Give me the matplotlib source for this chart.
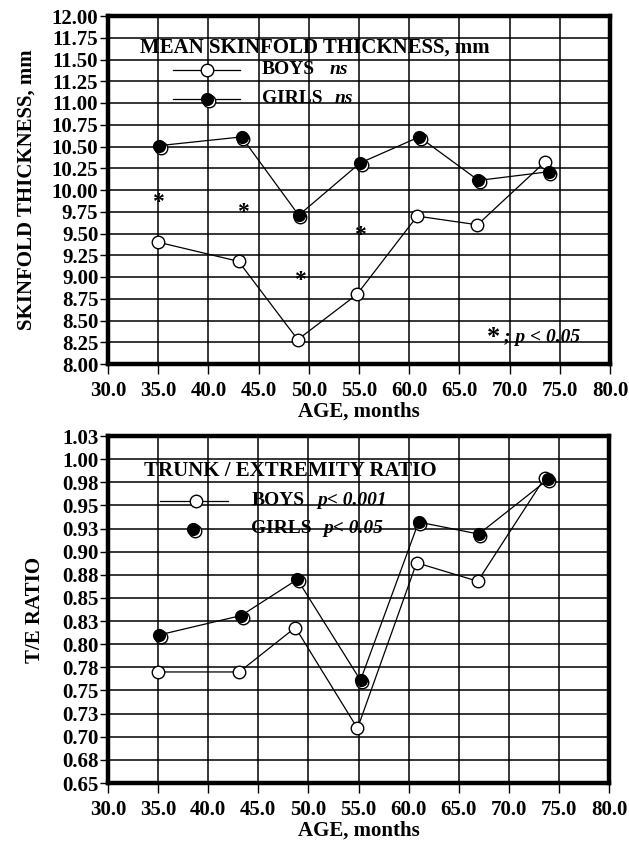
import matplotlib
matplotlib.use("Agg")
import matplotlib.pyplot as plt
import matplotlib.transforms as mtransforms

# skinfold thickness (mm) by age (months)
sf_boys_age = [35.0, 43.0, 48.9, 54.8, 60.8, 66.8, 73.5]
sf_boys = [9.40, 9.18, 8.28, 8.80, 9.70, 9.60, 10.32]
sf_girls_age = [35.1, 43.3, 49.0, 55.1, 61.0, 66.9, 73.9]
sf_girls = [10.51, 10.61, 9.71, 10.31, 10.61, 10.11, 10.21]
sf_star_age = [35.0, 43.4, 49.1, 55.1]
sf_star_y = [9.91, 9.80, 9.02, 9.53]

# trunk / extremity ratio by age (months)
te_boys_age = [35.0, 43.1, 48.7, 54.9, 60.8, 66.9, 73.6]
te_boys = [0.770, 0.770, 0.818, 0.709, 0.888, 0.868, 0.980]
te_girls_age = [35.1, 43.3, 48.9, 55.2, 61.0, 67.0, 73.9]
te_girls = [0.810, 0.831, 0.870, 0.761, 0.932, 0.919, 0.978]

x_ticks = [30, 35, 40, 45, 50, 55, 60, 65, 70, 75, 80]
sf_ticks = [8.00, 8.25, 8.50, 8.75, 9.00, 9.25, 9.50, 9.75, 10.00, 10.25,
            10.50, 10.75, 11.00, 11.25, 11.50, 11.75, 12.00]
te_ticks = [0.650, 0.675, 0.700, 0.725, 0.750, 0.775, 0.800, 0.825, 0.850,
            0.875, 0.900, 0.925, 0.950, 0.975, 1.000, 1.025]
te_labels = ["0.65", "0.68", "0.70", "0.73", "0.75", "0.78", "0.80", "0.83",
             "0.85", "0.88", "0.90", "0.93", "0.95", "0.98", "1.00", "1.03"]

plt.rcParams["font.family"] = ["Liberation Serif", "DejaVu Serif"]
plt.rcParams["font.weight"] = "bold"
plt.rcParams["font.size"] = 15

FS = 15
LFS = 14


def style_axes(ax, yticks, ylabels):
    ax.set_xlim(30, 80)
    ax.set_ylim(yticks[0], yticks[-1])
    ax.set_xticks(x_ticks)
    ax.set_xticklabels(["%.1f" % t for t in x_ticks])
    ax.set_yticks(yticks)
    ax.set_yticklabels(ylabels)
    ax.grid(True, color="black", linewidth=1.1)
    ax.set_axisbelow(True)
    for s in ax.spines.values():
        s.set_linewidth(3.2)
    ax.tick_params(axis="y", direction="out", length=6, width=1, pad=1,
                   labelsize=FS)
    ax.tick_params(axis="x", direction="out", length=7, width=1, pad=5,
                   labelsize=FS)
    for lab in ax.get_xticklabels() + ax.get_yticklabels():
        lab.set_fontweight("bold")


def draw_series(ax, fig, xb, yb, xg, yg):
    shadow = mtransforms.offset_copy(ax.transData, fig=fig, x=1.5, y=-2.0,
                                     units="dots")
    ax.plot(xg, yg, color="black", linewidth=0.9, zorder=3)
    ax.plot(xb, yb, color="black", linewidth=0.9, marker="o", markersize=9,
            markerfacecolor="white", markeredgecolor="black",
            markeredgewidth=1.0, zorder=4)
    ax.plot(xg, yg, linestyle="none", marker="o", markersize=9,
            markerfacecolor="white", markeredgecolor="black",
            markeredgewidth=1.0, transform=shadow, zorder=4)
    ax.plot(xg, yg, linestyle="none", marker="o", markersize=8.5,
            markerfacecolor="black", markeredgecolor="black", zorder=5)


fig = plt.figure(figsize=(6.29, 8.46), dpi=100)

# ---- top panel: skinfold thickness
ax1 = fig.add_axes([108 / 629, 1 - 364 / 846, 502 / 629, 348 / 846])
style_axes(ax1, sf_ticks, ["%.2f" % t for t in sf_ticks])
draw_series(ax1, fig, sf_boys_age, sf_boys, sf_girls_age, sf_girls)

star_tr = mtransforms.offset_copy(ax1.transData, fig=fig, x=0, y=-5,
                                  units="dots")
for xs, ys in zip(sf_star_age, sf_star_y):
    ax1.text(xs, ys, "*", ha="center", va="center", fontsize=FS + 2,
             fontweight="bold", transform=star_tr, zorder=6)

ax1.text(33.2, 11.64, "MEAN SKINFOLD THICKNESS, mm", fontsize=FS,
         fontweight="bold", va="center", ha="left", zorder=6)
leg_sh1 = mtransforms.offset_copy(ax1.transData, fig=fig, x=1.5, y=-2.0,
                                  units="dots")
ax1.plot([36.5, 43.1], [11.38, 11.38], color="black", linewidth=0.9, zorder=4)
ax1.plot([39.9], [11.38], marker="o", markersize=9, markerfacecolor="white",
         markeredgecolor="black", zorder=5)
ax1.plot([36.5, 43.1], [11.05, 11.05], color="black", linewidth=0.9, zorder=4)
ax1.plot([39.9], [11.05], marker="o", markersize=9, markerfacecolor="white",
         markeredgecolor="black", transform=leg_sh1, zorder=5)
ax1.plot([39.9], [11.05], marker="o", markersize=8.5, markerfacecolor="black",
         markeredgecolor="black", zorder=6)
ax1.text(45.3, 11.38, "BOYS", fontsize=LFS, fontweight="bold", va="center",
         zorder=6)
ax1.text(52.1, 11.38, "ns", fontsize=LFS, fontweight="bold",
         style="italic", va="center", zorder=6)
ax1.text(45.3, 11.05, "GIRLS", fontsize=LFS, fontweight="bold", va="center",
         zorder=6)
ax1.text(52.6, 11.05, "ns", fontsize=LFS, fontweight="bold",
         style="italic", va="center", zorder=6)
ax1.text(68.4, 8.36, "*", fontsize=FS + 4, fontweight="bold", ha="center",
         va="center", transform=star_tr, zorder=6)
ax1.text(69.4, 8.30, "; p < 0.05", fontsize=LFS, fontweight="bold",
         style="italic", va="center", zorder=6)

ax1.set_xlabel("AGE, months", fontsize=FS, fontweight="bold", labelpad=1)
ax1.set_ylabel("SKINFOLD THICKNESS, mm", fontsize=FS, fontweight="bold",
               labelpad=11)

# ---- bottom panel: trunk / extremity ratio
ax2 = fig.add_axes([108 / 629, 1 - 783 / 846, 501 / 629, 347 / 846])
style_axes(ax2, te_ticks, te_labels)
draw_series(ax2, fig, te_boys_age, te_boys, te_girls_age, te_girls)

ax2.text(33.6, 0.987, "TRUNK / EXTREMITY RATIO", fontsize=FS,
         fontweight="bold", va="center", ha="left", zorder=6)
leg_sh2 = mtransforms.offset_copy(ax2.transData, fig=fig, x=1.5, y=-2.0,
                                  units="dots")
ax2.plot([35.2, 42.0], [0.955, 0.955], color="black", linewidth=0.9,
         zorder=4)
ax2.plot([38.8], [0.955], marker="o", markersize=9, markerfacecolor="white",
         markeredgecolor="black", zorder=5)
ax2.plot([38.5], [0.9245], marker="o", markersize=9, markerfacecolor="white",
         markeredgecolor="black", transform=leg_sh2, zorder=5)
ax2.plot([38.5], [0.9245], marker="o", markersize=8.5,
         markerfacecolor="black", markeredgecolor="black", zorder=6)
ax2.text(44.3, 0.955, "BOYS", fontsize=LFS, fontweight="bold", va="center",
         zorder=6)
ax2.text(50.9, 0.955, "p< 0.001", fontsize=LFS, fontweight="bold",
         style="italic", va="center", zorder=6)
ax2.text(44.3, 0.9245, "GIRLS", fontsize=LFS, fontweight="bold", va="center",
         zorder=6)
ax2.text(51.5, 0.9245, "p< 0.05", fontsize=LFS, fontweight="bold",
         style="italic", va="center", zorder=6)

ax2.set_xlabel("AGE, months", fontsize=FS, fontweight="bold", labelpad=1)
ax2.set_ylabel("T/E RATIO", fontsize=FS, fontweight="bold", labelpad=12)

fig.savefig("out.png", dpi=100)
